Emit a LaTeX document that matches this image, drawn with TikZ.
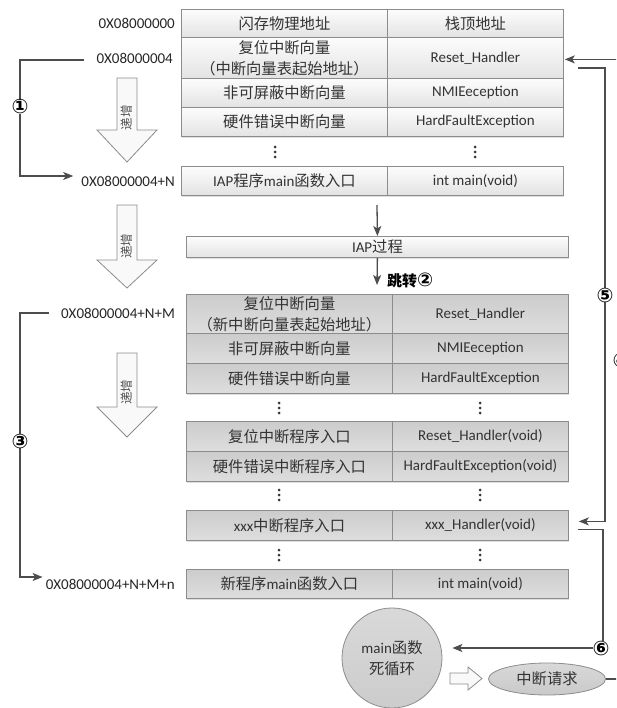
\documentclass[tikz,border=0pt]{standalone}
\usepackage{fontspec}
\setmainfont{Carlito}
\newfontfamily\cjk{Noto Sans CJK SC}
\newfontfamily\sym{DejaVu Sans}
\usetikzlibrary{arrows.meta,shapes.geometric,shadows}
\newcommand\zh[1]{{\cjk\fontsize{15.3}{21}\selectfont #1}}
\newcommand\zhs[1]{{\cjk\fontsize{12.5}{14}\selectfont #1}}
\definecolor{bordergray}{HTML}{8C8C8C}
\definecolor{txt}{HTML}{333333}
\definecolor{lnk}{HTML}{4D4D4D}
\newcommand\mycell[7]{\node[#6, minimum width={(#4-#2)*1pt}, minimum height={(#5-#3)*1pt}] (#1) at (#2,#3) {#7};}
\newcommand\hollowdown[5]{%
 \draw[hollowst] (117,#2) -- (137,#2) -- (137,#3) -- (157,#3) -- (127,#4) -- (97,#3) -- (117,#3) -- cycle;
 \node[base, rotate=90, inner sep=0pt, text=txt!85] (#1) at (127,#5) {\zhs{递增}};}
\begin{document}
\begin{tikzpicture}[x=1pt,y=-1pt,
  base/.style={font=\fontsize{15}{21}\selectfont, text=txt},
  cellT/.style={base, draw=bordergray, line width=0.8pt, top color=gray!2, bottom color=gray!22,
    inner sep=0pt, align=center, anchor=north west,
    drop shadow={shadow xshift=1pt,shadow yshift=-1.5pt,opacity=0.25}},
  cellG/.style={cellT, top color=gray!40, bottom color=gray!26},
  lab/.style={base, inner sep=0pt, anchor=east, text=black!85},
  hollowst/.style={draw=bordergray, line width=0.8pt, fill=gray!5},
  conn/.style={draw=lnk, line width=1.3pt},
  tip/.style={-{Stealth[length=10pt,width=8pt,inset=2.5pt]}},
  numst/.style={font=\sym\bfseries\fontsize{20}{20}\selectfont, fill=white, inner sep=0pt, text=black}
]
\useasboundingbox (0,0) rectangle (616,708);
\clip (0,0) rectangle (616,708);

% ---------- top table ----------
\mycell{T0l}{181}{9}{387}{37}{cellT}{\zh{闪存物理地址}}
\mycell{T0r}{387}{9}{563}{37}{cellT}{\zh{栈顶地址}}
\mycell{T1l}{181}{37}{387}{78}{cellT}{\zh{复位中断向量}\\\zh{（中断向量表起始地址）}}
\mycell{T1r}{387}{37}{563}{78}{cellT}{Reset\_Handler}
\mycell{T2l}{181}{78}{387}{107}{cellT}{\zh{非可屏蔽中断向量}}
\mycell{T2r}{387}{78}{563}{107}{cellT}{NMIEeception}
\mycell{T3l}{181}{107}{387}{136}{cellT}{\zh{硬件错误中断向量}}
\mycell{T3r}{387}{107}{563}{136}{cellT}{HardFaultException}
\mycell{T4l}{181}{166}{387}{195}{cellT}{IAP\zh{程序}main\zh{函数入口}}
\mycell{T4r}{387}{166}{563}{195}{cellT}{int main(void)}
\mycell{iap}{186}{236}{568}{257}{cellT}{IAP\zh{过程}}

% ---------- second table ----------
\mycell{Al}{186}{294}{392}{333}{cellG}{\zh{复位中断向量}\\\zh{（新中断向量表起始地址）}}
\mycell{Ar}{392}{294}{568}{333}{cellG}{Reset\_Handler}
\mycell{Bl}{186}{333}{392}{363}{cellG}{\zh{非可屏蔽中断向量}}
\mycell{Br}{392}{333}{568}{363}{cellG}{NMIEeception}
\mycell{Cl}{186}{363}{392}{393}{cellG}{\zh{硬件错误中断向量}}
\mycell{Cr}{392}{363}{568}{393}{cellG}{HardFaultException}
\mycell{Dl}{186}{421}{392}{451}{cellG}{\zh{复位中断程序入口}}
\mycell{Dr}{392}{421}{568}{451}{cellG}{Reset\_Handler(void)}
\mycell{El}{186}{451}{392}{481}{cellG}{\zh{硬件错误中断程序入口}}
\mycell{Er}{392}{451}{568}{481}{cellG}{HardFaultException(void)}
\mycell{Fl}{186}{510}{392}{540}{cellG}{xxx\zh{中断程序入口}}
\mycell{Fr}{392}{510}{568}{540}{cellG}{xxx\_Handler(void)}
\mycell{Gl}{186}{569}{392}{598}{cellG}{\zh{新程序}main\zh{函数入口}}
\mycell{Gr}{392}{569}{568}{598}{cellG}{int main(void)}

% ---------- vertical dots ----------
\foreach \x/\y in {275/152, 475/152, 279/408, 480/408, 279/495, 480/495, 279/555, 480/555}
  \fill[txt] (\x,\y-5) circle (1.5pt) (\x,\y) circle (1.5pt) (\x,\y+5) circle (1.5pt);

% ---------- hollow arrows ----------
\hollowdown{inc1}{78}{130}{162}{118}
\hollowdown{inc2}{205}{260}{288}{246}
\hollowdown{inc3}{353}{407}{437}{392}

% ---------- address labels ----------
\node[lab] (L0) at (175,23) {0X08000000};
\node[lab] (L1) at (173,58) {0X08000004};
\node[lab] (L3) at (175,181) {0X08000004+N};
\node[lab] (L4) at (175,313) {0X08000004+N+M};
\node[lab] (L5) at (175,584) {0X08000004+N+M+n};

% ---------- central flow ----------
\coordinate (c0) at (377,205);
\coordinate (c1) at (377,285);
\draw[conn,tip] (c0) -- (iap.north);
\draw[conn,tip] (iap.south) -- (c1);
\node[anchor=west, inner sep=0pt, text=black] (jump) at (387,280) {{\cjk\fontsize{15}{15}\selectfont\bfseries 跳转}{\sym\bfseries\fontsize{19}{19}\selectfont ②}};

% ---------- bottom shapes ----------
\node[circle, minimum size=100pt, inner sep=0pt, draw=bordergray, line width=0.8pt,
      top color=gray!30, bottom color=gray!40, align=center, base] (mainc) at (392,658)
      {main\zh{函数}\\\zh{死循环}};
\draw[hollowst] (450,673) -- (468,673) -- (468,667) -- (482,678.5) -- (468,690) -- (468,684) -- (450,684) -- cycle;
\node[ellipse, minimum width=117pt, minimum height=32pt, inner sep=0pt, draw=bordergray,
      line width=0.8pt, top color=gray!30, bottom color=gray!42, base] (ell) at (547,679) {\zh{中断请求}};

% ---------- brackets ----------
\draw[conn,tip] ([xshift=-12pt,yshift=-2pt]L1.west) -| (20,120) |- ([xshift=-8pt,yshift=5pt]L3.west);
\draw[conn,tip] ([xshift=-12pt]L4.west) -| (20,450) |- ([xshift=-3pt,yshift=7pt]L5.west);
\draw[conn,tip] ([xshift=14pt,yshift=-10pt]T1r.east) -| (605,300) |- ([xshift=10pt,yshift=4pt]Fr.east);
\draw[conn,tip] (ell.east) -| (621,300) |- ([xshift=1pt,yshift=-1.5pt]T1r.east);
\draw[conn,tip] ([xshift=9pt,yshift=-4pt]Fr.east) -| (603,600) |- ([xshift=10pt,yshift=10pt]mainc.east);

% ---------- circled numbers ----------
\node[numst] (n1) at (20,107) {①};
\node[numst] (n3) at (20,441) {③};
\node[numst] (n5) at (605,295) {⑤};
\node[numst] (n4) at (621,360) {④};
\node[numst] (n6) at (601,648) {⑥};
\end{tikzpicture}
\end{document}
